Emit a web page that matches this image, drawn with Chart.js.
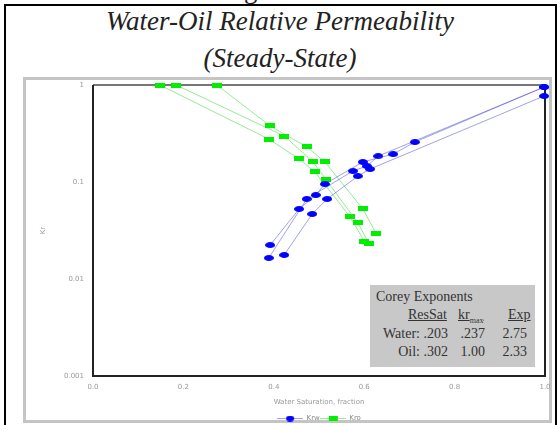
<!DOCTYPE html>
<html>
<head>
<meta charset="utf-8">
<script src="https://cdn.jsdelivr.net/npm/chart.js@4.4.1/dist/chart.umd.min.js"></script>
<style>
  body { margin: 0; width: 557px; height: 425px; overflow: hidden; position: relative; background: #fff; }
  #outer { position: absolute; left: 4px; top: 4px; width: 549px; height: 440px; border: 2px solid #000; }
  #frame { position: absolute; left: 23px; top: 77px; width: 523px; height: 340px; border: 3px solid #c4c4c4; }
  .ttl { position: absolute; left: 0; width: 560px; text-align: center; font-family: "Liberation Serif", serif; font-style: italic; font-size: 27px; line-height: 27px; color: #222; }
  #gtop { position: absolute; left: 244px; top: -24px; font-family: "Liberation Serif", serif; font-size: 27px; line-height: 27px; color: #222; }
  #wrap { position: absolute; left: 26px; top: 80px; width: 524px; height: 352px; }
  #corey { position: absolute; left: 370px; top: 285px; width: 165px; height: 82px; background: #c8c8c8;
           font-family: "Liberation Serif", serif; font-size: 14px; color: #333; }
  #corey span { position: absolute; white-space: nowrap; line-height: 14px; }
  .u { text-decoration: underline; }
  .r { text-align: right; }
</style>
</head>
<body>
<div id="gtop">g</div>
<div id="outer"></div>
<div class="ttl" style="top:8px">Water-Oil Relative Permeability</div>
<div class="ttl" style="top:45px">(Steady-State)</div>
<div id="frame"></div>
<div id="wrap"><canvas id="krChart"></canvas></div>
<div id="corey">
  <span style="left:6px; top:5px">Corey Exponents</span>
  <span class="u" style="left:38px; top:23px">ResSat</span>
  <span class="u" style="left:88px; top:23px">kr<sub style="font-size:8px">max</sub></span>
  <span class="u" style="left:138px; top:23px">Exp</span>
  <span class="r" style="left:0; width:50px; top:42px">Water:</span>
  <span class="r" style="left:50px; width:28px; top:42px">.203</span>
  <span class="r" style="left:90px; width:25px; top:42px">.237</span>
  <span class="r" style="left:130px; width:27px; top:42px">2.75</span>
  <span class="r" style="left:0; width:50px; top:60px">Oil:</span>
  <span class="r" style="left:50px; width:28px; top:60px">.302</span>
  <span class="r" style="left:90px; width:25px; top:60px">1.00</span>
  <span class="r" style="left:130px; width:27px; top:60px">2.33</span>
</div>
<script>
// water saturation / relative permeability, three runs for each curve
const satTicks = [0, 0.2, 0.4, 0.6, 0.8, 1.0];
const krTicks = [0.001, 0.01, 0.1, 1];

const krwSw1 = [0.392, 0.456, 0.493, 0.513, 0.597, 0.664, 0.712, 0.998];
const krw1   = [0.0224, 0.0527, 0.0734, 0.0953, 0.161, 0.194, 0.258, 0.953];
const krwSw2 = [0.389, 0.473, 0.575, 0.606, 0.631, 0.998];
const krw2   = [0.0165, 0.0668, 0.130, 0.146, 0.185, 0.953];
const krwSw3 = [0.423, 0.485, 0.518, 0.586, 0.613, 0.998];
const krw3   = [0.0177, 0.0468, 0.0668, 0.115, 0.136, 0.77];

const kroSw1 = [0.274, 0.392, 0.473, 0.513, 0.597, 0.626];
const kro1   = [1.0, 0.378, 0.23, 0.161, 0.0527, 0.0298];
const kroSw2 = [0.184, 0.423, 0.487, 0.515, 0.586, 0.611];
const kro2   = [1.0, 0.298, 0.161, 0.107, 0.0378, 0.023];
const kroSw3 = [0.148, 0.389, 0.456, 0.491, 0.569, 0.600];
const kro3   = [1.0, 0.277, 0.173, 0.127, 0.0436, 0.0246];

const blue = "#0000ff", blueLine = "rgba(70,70,220,0.5)";
const green = "#00ee00", greenLine = "rgba(60,220,60,0.55)";

function makeMarker(color, w, h, round) {
  const c = document.createElement("canvas");
  c.width = w; c.height = h;
  const g = c.getContext("2d");
  g.fillStyle = color;
  if (round) {
    g.beginPath();
    g.ellipse(w / 2, h / 2, w / 2, h / 2, 0, 0, Math.PI * 2);
    g.fill();
  } else {
    g.fillRect(0, 0, w, h);
  }
  return c;
}

function makeLegendMark(color, lineColor, round) {
  const c = document.createElement("canvas");
  c.width = 26; c.height = 7;
  const g = c.getContext("2d");
  g.strokeStyle = lineColor;
  g.beginPath(); g.moveTo(0, 3.5); g.lineTo(26, 3.5); g.stroke();
  g.drawImage(makeMarker(color, round ? 8 : 9, round ? 6 : 5, round), round ? 9 : 8.5, round ? 0.5 : 1);
  return c;
}

const blueDot = makeMarker(blue, 10, 6, true);
const greenBox = makeMarker(green, 10, 5, false);

function toPoints(xs, ys) {
  return xs.map((x, i) => ({ x: x, y: ys[i] }));
}

function series(label, xs, ys, color, lineColor, marker) {
  return {
    label: label,
    data: toPoints(xs, ys),
    showLine: true,
    borderColor: lineColor,
    backgroundColor: color,
    borderWidth: 1,
    pointStyle: marker,
    pointRadius: 4,
    pointHoverRadius: 4,
    clip: false
  };
}

// plot frame, drawn under the markers
const framePlugin = {
  id: "frame",
  beforeDatasetsDraw(chart) {
    const a = chart.chartArea;
    const ctx = chart.ctx;
    ctx.save();
    ctx.lineWidth = 2;
    ctx.strokeStyle = "#777";
    ctx.beginPath(); ctx.moveTo(a.left, a.top); ctx.lineTo(a.right, a.top); ctx.stroke();
    ctx.strokeStyle = "#222";
    ctx.beginPath();
    ctx.moveTo(a.left, a.top); ctx.lineTo(a.left, a.bottom);
    ctx.lineTo(a.right, a.bottom); ctx.lineTo(a.right, a.top);
    ctx.stroke();
    ctx.restore();
  }
};

const tickFont = { family: "DejaVu Sans", size: 7 };

new Chart(document.getElementById("krChart"), {
  type: "scatter",
  data: {
    datasets: [
      series("Krw", krwSw1, krw1, blue, blueLine, blueDot),
      series("Krw", krwSw2, krw2, blue, blueLine, blueDot),
      series("Krw", krwSw3, krw3, blue, blueLine, blueDot),
      series("Kro", kroSw1, kro1, green, greenLine, greenBox),
      series("Kro", kroSw2, kro2, green, greenLine, greenBox),
      series("Kro", kroSw3, kro3, green, greenLine, greenBox)
    ]
  },
  options: {
    responsive: true,
    maintainAspectRatio: false,
    animation: false,
    devicePixelRatio: 1,
    layout: { padding: { top: 5, right: 5, left: 0, bottom: 0 } },
    scales: {
      x: {
        type: "linear",
        min: 0, max: 1,
        grid: { display: false, drawTicks: false },
        border: { display: false },
        afterBuildTicks: s => { s.ticks = satTicks.map(v => ({ value: v })); },
        afterFit: s => { s.height = 39; s.paddingLeft = 0; s.paddingRight = 0; },
        ticks: { font: tickFont, color: "#999", padding: 7, maxRotation: 0,
                 callback: v => Number(v).toFixed(1) },
        title: { display: true, text: "Water Saturation, fraction", color: "#999",
                 font: { family: "DejaVu Sans", size: 7 }, padding: { top: 0, bottom: 9 } }
      },
      y: {
        type: "logarithmic",
        min: 0.001, max: 1,
        grid: { display: false, drawTicks: false },
        border: { display: false },
        afterBuildTicks: s => { s.ticks = krTicks.map(v => ({ value: v })); },
        afterFit: s => { s.width = 67; s.paddingTop = 0; s.paddingBottom = 0; },
        ticks: { font: tickFont, color: "#999", padding: 9,
                 callback: v => String(v) },
        title: { display: true, text: "Kr", color: "#999",
                 font: { family: "DejaVu Sans", size: 7 }, padding: { top: 13, bottom: 0 } }
      }
    },
    plugins: {
      title: { display: false },
      tooltip: { enabled: false },
      legend: {
        position: "bottom",
        fullSize: false,
        labels: {
          usePointStyle: true,
          pointStyleWidth: 26,
          padding: 0,
          color: "#888",
          font: { family: "DejaVu Sans", size: 7 },
          generateLabels: () => [
            { text: "Krw", pointStyle: makeLegendMark(blue, blueLine, true), fillStyle: blue,
              strokeStyle: blue, lineWidth: 0, hidden: false, datasetIndex: 0, fontColor: "#888" },
            { text: "Kro", pointStyle: makeLegendMark(green, greenLine, false), fillStyle: green,
              strokeStyle: green, lineWidth: 0, hidden: false, datasetIndex: 3, fontColor: "#888" }
          ]
        }
      }
    }
  },
  plugins: [framePlugin]
});
</script>
</body>
</html>
